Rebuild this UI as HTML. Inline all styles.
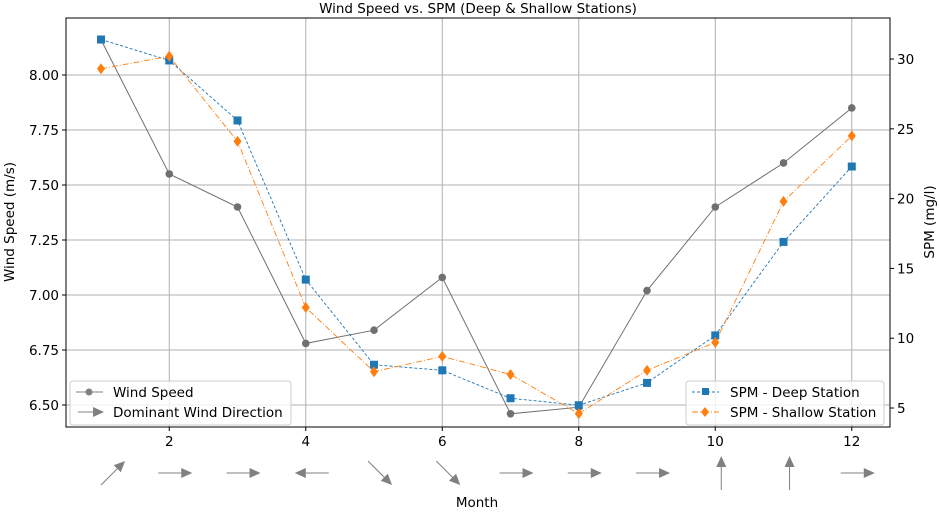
<!DOCTYPE html>
<html><head><meta charset="utf-8"><style>
body{margin:0;background:#fff}
text{font-family:"DejaVu Sans","Liberation Sans",sans-serif;font-size:13.5px;fill:#000}
</style></head><body>
<svg id="chart" width="940" height="509" xmlns="http://www.w3.org/2000/svg">
<text x="478" y="13" text-anchor="middle" font-size="15.5">Wind Speed vs. SPM (Deep &amp; Shallow Stations)</text>
<g id="grid"></g><g id="axes"></g><g id="series"></g><g id="arrows"></g>
<text x="477" y="507" text-anchor="middle" font-size="14.5">Month</text>
<text transform="translate(14,222) rotate(-90)" text-anchor="middle" font-size="14.5">Wind Speed (m/s)</text>
<text transform="translate(934,222) rotate(-90)" text-anchor="middle" font-size="14.5">SPM (mg/l)</text>
<g>
<rect x="70" y="381" width="221" height="44" rx="3" fill="#fff" fill-opacity="0.8" stroke="#ccc"/>
<line x1="76" y1="392" x2="103" y2="392" stroke="#808080"/><circle cx="89" cy="392" r="3.5" fill="#808080"/>
<text x="113" y="397">Wind Speed</text>
<line x1="78" y1="412" x2="95" y2="412" stroke="#808080"/><path d="M93,407 L104,412 L93,417Z" fill="#808080"/>
<text x="113" y="417">Dominant Wind Direction</text>
</g>
<g>
<rect x="686" y="381" width="198" height="44" rx="3" fill="#fff" fill-opacity="0.8" stroke="#ccc"/>
<line x1="692" y1="392" x2="719" y2="392" stroke="#1f77b4" stroke-dasharray="3,2"/><rect x="702" y="388" width="7" height="7" fill="#1f77b4"/>
<text x="730" y="397">SPM - Deep Station</text>
<line x1="692" y1="412" x2="719" y2="412" stroke="#ff7f0e" stroke-dasharray="6,2,1,2"/><path d="M705,407 L709,412 L705,417 L701,412Z" fill="#ff7f0e"/>
<text x="730" y="417">SPM - Shallow Station</text>
</g>
</svg>
<script>
const months=[1,2,3,4,5,6,7,8,9,10,11,12];
const windSpeed=[8.16,7.55,7.40,6.78,6.84,7.08,6.46,6.49,7.02,7.40,7.60,7.85];
const spmDeep=[31.4,29.9,25.6,14.2,8.1,7.7,5.7,5.2,6.8,10.2,16.9,22.3];
const spmShallow=[29.3,30.2,24.1,12.2,7.6,8.7,7.4,4.6,7.7,9.7,19.8,24.5];
const windDirDeg=[45,0,0,180,-45,-45,0,0,0,90,90,0];
const xTicks=[2,4,6,8,10,12];
const yLeftTicks=[6.50,6.75,7.00,7.25,7.50,7.75,8.00];
const yRightTicks=[5,10,15,20,25,30];
const L=66,R=890,T=18,B=427;
const X=m=>L+(m-0.487)/(12.56-0.487)*(R-L);
const YL=v=>B-(v-6.40)/(8.259-6.40)*(B-T);
const YR=v=>B-(v-3.64)/(32.94-3.64)*(B-T);
const NS="http://www.w3.org/2000/svg";
function mk(tag,attrs,parent){const e=document.createElementNS(NS,tag);for(const k in attrs)e.setAttribute(k,attrs[k]);document.getElementById(parent).appendChild(e);return e;}
xTicks.forEach(t=>{const g=mk('line',{x1:X(t),x2:X(t),y1:T,y2:B,stroke:'#b0b0b0','stroke-width':1},'grid');


mk('line',{x1:X(t),x2:X(t),y1:B,y2:B+4,stroke:'#000'},'axes');
const tx=mk('text',{x:X(t),y:B+19,'text-anchor':'middle'},'axes');tx.textContent=t;

});
yLeftTicks.forEach(t=>{const g=mk('line',{x1:L,x2:R,y1:YL(t),y2:YL(t),stroke:'#b0b0b0'},'grid');


mk('line',{x1:L-4,x2:L,y1:YL(t),y2:YL(t),stroke:'#000'},'axes');
const tx=mk('text',{x:L-7,y:YL(t)+5,'text-anchor':'end'},'axes');tx.textContent=t.toFixed(2);

});
yRightTicks.forEach(t=>{mk('line',{x1:R,x2:R+4,y1:YR(t),y2:YR(t),stroke:'#000'},'axes');
const tx=mk('text',{x:R+7,y:YR(t)+5},'axes');tx.textContent=t;

});
const fr=mk('rect',{x:L,y:T,width:R-L,height:B-T,fill:'none',stroke:'#000'},'axes');


function line(vals,yf,color,dash,name){const p=mk('polyline',{points:vals.map((v,i)=>X(months[i])+','+yf(v)).join(' '),fill:'none',stroke:color,'stroke-width':dash?0.9:1,'stroke-dasharray':dash||'none'},'series');

}
line(windSpeed,YL,'#707070',null,'wind-speed-line');
line(spmDeep,YR,'#1f77b4','3,2','spm-deep-line');
line(spmShallow,YR,'#ff7f0e','6,2,1,2','spm-shallow-line');
windSpeed.forEach((v,i)=>{const c=mk('circle',{cx:X(months[i]),cy:YL(v),r:3.8,fill:'#707070'},'series');

});
spmDeep.forEach((v,i)=>{const c=mk('rect',{x:X(months[i])-4,y:YR(v)-4,width:8,height:8,fill:'#1f77b4'},'series');

});
spmShallow.forEach((v,i)=>{const x=X(months[i]),y=YR(v);const c=mk('path',{d:`M${x},${y-5.5}L${x+4},${y}L${x},${y+5.5}L${x-4},${y}Z`,fill:'#ff7f0e'},'series');

});
windDirDeg.forEach((d,i)=>{const cx=X(months[i])+(i===0?12:6),cy=473,len=34,a=d*Math.PI/180;
const dx=Math.cos(a),dy=-Math.sin(a);const x0=cx-dx*len/2,y0=cy-dy*len/2,x1=cx+dx*len/2,y1=cy+dy*len/2;
const hb=11,hw=5;const bx=x1-dx*hb,by=y1-dy*hb;
const g=mk('g',{},'arrows');


const l=document.createElementNS(NS,'line');l.setAttribute('x1',x0);l.setAttribute('y1',y0);l.setAttribute('x2',bx);l.setAttribute('y2',by);l.setAttribute('stroke','#808080');g.appendChild(l);
const h=document.createElementNS(NS,'path');h.setAttribute('d',`M${x1},${y1}L${bx-dy*hw},${by+dx*hw}L${bx+dy*hw},${by-dx*hw}Z`);h.setAttribute('fill','#808080');g.appendChild(h);});
</script>
</body></html>
